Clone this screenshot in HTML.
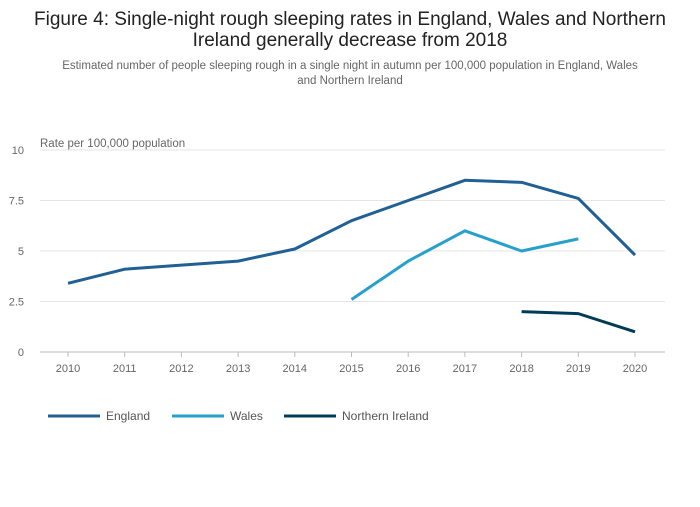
<!DOCTYPE html>
<html><head><meta charset="utf-8"><style>
body{margin:0;background:#fff;width:700px;height:502px;overflow:hidden;font-family:"Liberation Sans",sans-serif}
</style></head><body>
<svg width="700" height="502" font-family="Liberation Sans, sans-serif">
<text x="350" y="25" text-anchor="middle" font-size="19" fill="#222">Figure 4: Single-night rough sleeping rates in England, Wales and Northern</text>
<text x="350" y="46" text-anchor="middle" font-size="19" fill="#222">Ireland generally decrease from 2018</text>
<text x="350" y="69" text-anchor="middle" font-size="11.5" fill="#666">Estimated number of people sleeping rough in a single night in autumn per 100,000 population in England, Wales</text>
<text x="350" y="84" text-anchor="middle" font-size="11.5" fill="#666">and Northern Ireland</text>
<text x="40" y="147" font-size="11.5" fill="#666">Rate per 100,000 population</text>
<g id="grid"></g><g id="series"></g><g id="legend"></g>
</svg>
<script>
const years=[2010,2011,2012,2013,2014,2015,2016,2017,2018,2019,2020];
const england=[3.4,4.1,4.3,4.5,5.1,6.5,7.5,8.5,8.4,7.6,4.8];
const wales=[null,null,null,null,null,2.6,4.5,6.0,5.0,5.6,null];
const ni=[null,null,null,null,null,null,null,null,2.0,1.9,1.0];
const yTicks=[0,2.5,5,7.5,10];
const yTickLabels=["0","2.5","5","7.5","10"];
const NS="http://www.w3.org/2000/svg";
const x=i=>68+i*(635-68)/(years.length-1);
const y=v=>352-v*20.2;
function mk(t,a,p){const e=document.createElementNS(NS,t);for(const k in a)e.setAttribute(k,a[k]);p.appendChild(e);return e;}
const g=document.getElementById('grid');
yTicks.forEach((v,i)=>{
 const l=mk('line',{x1:40,x2:665,y1:y(v),y2:y(v),stroke:v===0?'#bbb':'#e5e5e5','stroke-width':1},g);
 
 
 const t=mk('text',{x:24,y:y(v)+4,'text-anchor':'end','font-size':11,fill:'#666'},g);t.textContent=yTickLabels[i];
 
 
});
years.forEach((yr,i)=>{
 const tk=mk('line',{x1:x(i),x2:x(i),y1:352,y2:357,stroke:'#bbb'},g);
 
 
 const t=mk('text',{x:x(i),y:372,'text-anchor':'middle','font-size':11,fill:'#666'},g);t.textContent=yr;
 
 
});
const s=document.getElementById('series');
[[england,'#206095','england-line'],[wales,'#27a0cc','wales-line'],[ni,'#003c57','northern-ireland-line']].forEach(([d,c,n])=>{
 const pts=d.map((v,i)=>v==null?null:x(i)+','+y(v)).filter(p=>p);
 const p=mk('polyline',{points:pts.join(' '),fill:'none',stroke:c,'stroke-width':3,'stroke-linejoin':'round'},s);
 
 
});
const lg=document.getElementById('legend');
[['England','#206095',48],['Wales','#27a0cc',172],['Northern Ireland','#003c57',284]].forEach(([n,c,lx])=>{
 const gg=mk('g',{},lg);
 
 
 mk('line',{x1:lx,x2:lx+52,y1:416,y2:416,stroke:c,'stroke-width':3},gg);
 const t=mk('text',{x:lx+58,y:420,'font-size':12,fill:'#555'},gg);t.textContent=n;
});
</script>
</body></html>
